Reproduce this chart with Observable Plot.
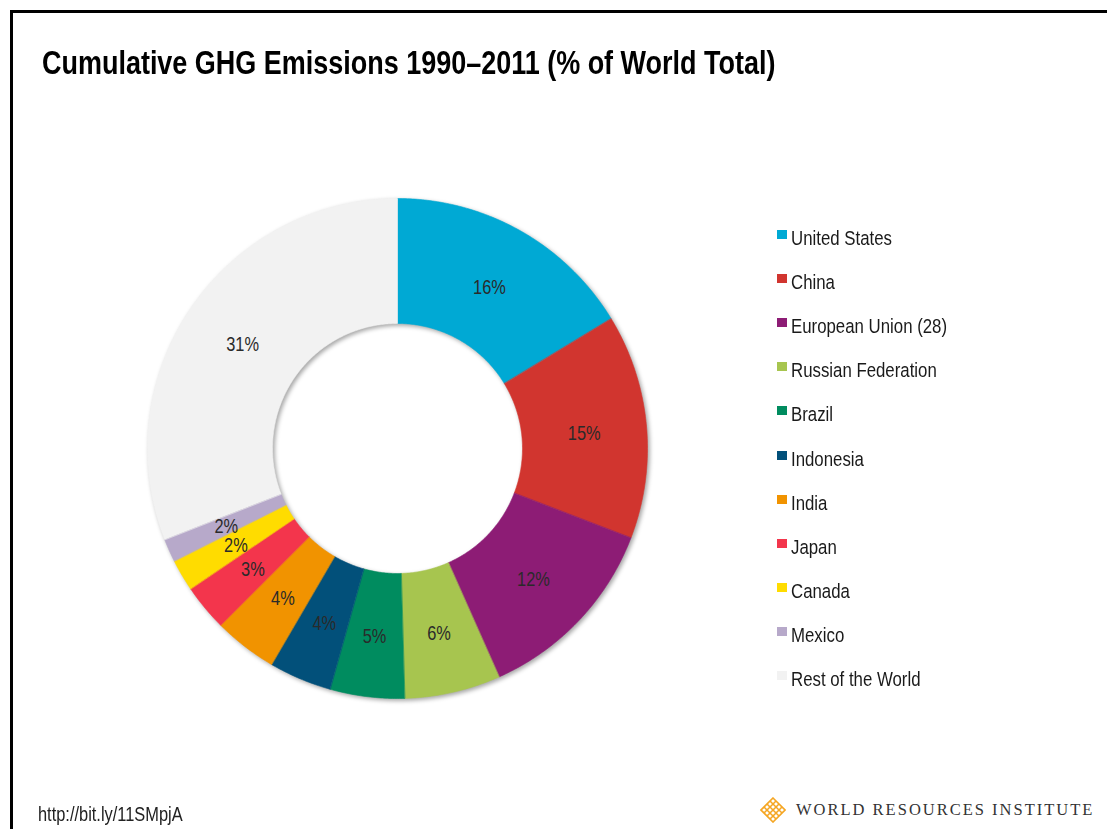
<!DOCTYPE html>
<html><head><meta charset="utf-8">
<script src="https://cdn.jsdelivr.net/npm/d3@7"></script>
<script src="https://cdn.jsdelivr.net/npm/@observablehq/plot@0.6"></script>
<style>
html,body{margin:0;padding:0;background:#fff;}
body{width:1107px;height:829px;position:relative;overflow:hidden;font-family:"Liberation Sans",Arial,sans-serif;color:#1a1a1a;}
.nar{display:inline-block;transform:scaleX(0.82);transform-origin:0 0;white-space:nowrap;}
#frame{position:absolute;left:10px;top:10px;width:1200px;height:900px;border-left:3px solid #000;border-top:3px solid #000;}
#title{position:absolute;left:42px;top:47px;font-weight:bold;font-size:32.9px;line-height:32px;white-space:nowrap;color:#000;}
#chart{position:absolute;left:141.5px;top:193px;}
.lg-row{position:absolute;left:777px;height:20px;font-size:20.5px;line-height:20px;white-space:nowrap;color:#1a1a1a;}
.lg-sw{position:absolute;left:0;top:2px;width:10px;height:9px;}
.lg-tx{position:absolute;left:14px;top:0;}
#url{position:absolute;left:38px;top:804px;font-size:20px;line-height:20px;color:#222;}
#wri{position:absolute;left:760px;top:797px;height:26px;white-space:nowrap;}
#wri span{position:absolute;left:36px;top:5px;font-family:"Liberation Serif","DejaVu Serif",serif;font-size:16.5px;line-height:16.5px;letter-spacing:2px;color:#333;}
</style>
</head><body>
<div id="frame"></div>
<div id="title"><span class="nar">Cumulative GHG Emissions 1990–2011 (% of World Total)</span></div>
<div id="chart"></div>
<div id="legend"></div>
<div id="url"><span class="nar">http://bit.ly/11SMpjA</span></div>
<div id="wri"><svg width="26" height="26" viewBox="0 0 26 26" style="position:absolute;left:0;top:0"><g fill="none" stroke="#F5A623" stroke-width="1.6"><path d="M13 1 L25 13 L13 25 L1 13 Z"/><path d="M7 7 L19 19 M4 10 L16 22 M10 4 L22 16 M19 7 L7 19 M22 10 L10 22 M16 4 L4 16"/></g></svg><span>WORLD RESOURCES INSTITUTE</span></div>
<script>
// ---- data ----
const categories = ["United States","China","European Union (28)","Russian Federation","Brazil","Indonesia","India","Japan","Canada","Mexico","Rest of the World"];
const shares = [16.3, 14.5, 12.5, 6.2, 4.8, 4.05, 4.1, 3.0, 2.05, 1.5, 30.9];
const shareLabels = ["16%","15%","12%","6%","5%","4%","4%","3%","2%","2%","31%"];
const colors = ["#00A9D4","#D1352F","#8D1C75","#A7C54F","#008C5F","#02507A","#F19300","#F3354C","#FFDC00","#B7A9CA","#F2F2F2"];

// ---- geometry (ring in chart units) ----
const R_OUT = 250, R_IN = 125, R_LAB = 187.5;
const arcs = d3.pie().sort(null).value(d => d)(shares);
const ring = [];
const labelsData = [];
arcs.forEach((a, i) => {
  const n = Math.max(8, Math.ceil((a.endAngle - a.startAngle) / 0.01));
  for (let k = 0; k <= n; k++) {
    const t = a.startAngle + (a.endAngle - a.startAngle) * k / n;
    ring.push({name: categories[i], x: R_OUT * Math.sin(t), y: R_OUT * Math.cos(t)});
  }
  for (let k = n; k >= 0; k--) {
    const t = a.startAngle + (a.endAngle - a.startAngle) * k / n;
    ring.push({name: categories[i], x: R_IN * Math.sin(t), y: R_IN * Math.cos(t)});
  }
  const m = (a.startAngle + a.endAngle) / 2;
  labelsData.push({name: categories[i], label: shareLabels[i], x: R_LAB * Math.sin(m), y: R_LAB * Math.cos(m) - 2});
});

const chart = Plot.plot({
  width: 510, height: 510, margin: 0,
  x: {domain: [-255, 255], axis: null},
  y: {domain: [-255, 255], axis: null},
  color: {domain: categories, range: colors},
  style: {fontFamily: '"Liberation Sans",Arial,sans-serif', background: "transparent", overflow: "visible"},
  marks: [
    Plot.line(ring, {x: "x", y: "y", z: "name", fill: "name", stroke: "name", strokeWidth: 0.6, curve: "linear-closed"}),
    Plot.text(labelsData, {x: "x", y: "y", text: "label", fontSize: 20, fill: "#2a2a2a"})
  ]
});
document.getElementById("chart").appendChild(chart);
const lineG = chart.querySelector('g[aria-label="line"]');
if (lineG) lineG.style.filter = "drop-shadow(2px 2px 2px rgba(0,0,0,0.35))";
chart.querySelectorAll('g[aria-label="text"] text').forEach(t => {
  t.setAttribute("transform", (t.getAttribute("transform") || "") + " scale(0.82,1)");
});

// ---- legend ----
const legend = document.getElementById("legend");
categories.forEach((c, i) => {
  const row = document.createElement("div");
  row.className = "lg-row";
  row.style.top = (228 + 44.1 * i) + "px";
  const sw = document.createElement("div");
  sw.className = "lg-sw";
  sw.style.background = colors[i];
  const tx = document.createElement("div");
  tx.className = "lg-tx";
  const sp = document.createElement("span");
  sp.className = "nar";
  sp.textContent = c;
  tx.appendChild(sp);
  row.appendChild(sw); row.appendChild(tx);
  legend.appendChild(row);
});
</script>
</body></html>
